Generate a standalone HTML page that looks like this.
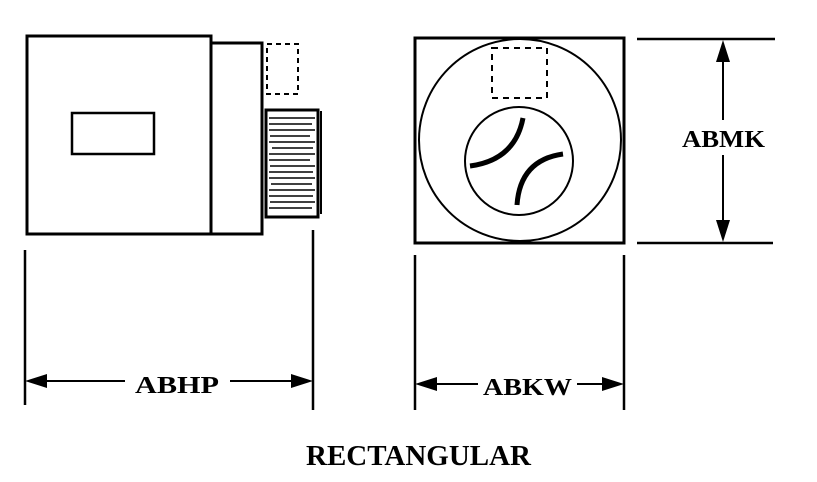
<!DOCTYPE html>
<html><head><style>html,body{margin:0;padding:0;background:#fff;}svg{display:block}
.t{font-family:"Liberation Serif","DejaVu Serif",serif;font-weight:bold;}</style></head>
<body>
<svg width="817" height="482" viewBox="0 0 817 482" xmlns="http://www.w3.org/2000/svg">
<g fill="none" stroke="#000" stroke-width="3">
<rect x="27" y="36" width="184" height="198"/>
<rect x="211" y="43" width="51" height="191"/>
<rect x="72" y="113" width="82" height="41" stroke-width="2.5"/>
<rect x="266" y="110" width="52" height="107" stroke-width="3"/>
<line x1="321" y1="111" x2="321" y2="214" stroke-width="2"/>
<g stroke-width="1.5">
<line x1="269" y1="118" x2="315" y2="118"/><line x1="269" y1="124" x2="312" y2="124"/>
<line x1="269" y1="130" x2="315" y2="130"/><line x1="270" y1="136" x2="310" y2="136"/>
<line x1="269" y1="142" x2="315" y2="142"/><line x1="272" y1="148" x2="313" y2="148"/>
<line x1="269" y1="154" x2="315" y2="154"/><line x1="269" y1="160" x2="310" y2="160"/>
<line x1="270" y1="166" x2="315" y2="166"/><line x1="269" y1="172" x2="313" y2="172"/>
<line x1="269" y1="178" x2="315" y2="178"/><line x1="271" y1="184" x2="312" y2="184"/>
<line x1="269" y1="190" x2="315" y2="190"/><line x1="269" y1="196" x2="313" y2="196"/>
<line x1="270" y1="202" x2="315" y2="202"/><line x1="269" y1="208" x2="312" y2="208"/>
</g>
<rect x="267" y="44" width="31" height="50" stroke-width="2" stroke-dasharray="5,4"/>
<rect x="415" y="38" width="209" height="205"/>
<circle cx="520" cy="140" r="101" stroke-width="2"/>
<circle cx="519" cy="161" r="54" stroke-width="2"/>
<rect x="492" y="48" width="55" height="50" stroke-width="2" stroke-dasharray="6,5"/>
<path d="M470 166 Q515 160 523 118" stroke-width="5"/>
<path d="M517 205 Q520 160 563 154" stroke-width="5"/>
<line x1="25" y1="250" x2="25" y2="405" stroke-width="2.5"/>
<line x1="313" y1="230" x2="313" y2="410" stroke-width="2.5"/>
<line x1="415" y1="255" x2="415" y2="410" stroke-width="2.5"/>
<line x1="624" y1="255" x2="624" y2="410" stroke-width="2.5"/>
<line x1="45" y1="381" x2="125" y2="381" stroke-width="2"/>
<line x1="230" y1="381" x2="295" y2="381" stroke-width="2"/>
<line x1="435" y1="384" x2="478" y2="384" stroke-width="2"/>
<line x1="577" y1="384" x2="605" y2="384" stroke-width="2"/>
<line x1="637" y1="39" x2="775" y2="39" stroke-width="2.5"/>
<line x1="637" y1="243" x2="773" y2="243" stroke-width="2.5"/>
<line x1="723" y1="60" x2="723" y2="120" stroke-width="2"/>
<line x1="723" y1="155" x2="723" y2="222" stroke-width="2"/>
</g>
<g fill="#000">
<polygon points="25,381 47,374 47,388"/>
<polygon points="313,381 291,374 291,388"/>
<polygon points="415,384 437,377 437,391"/>
<polygon points="624,384 602,377 602,391"/>
<polygon points="723,40 716,62 730,62"/>
<polygon points="723,242 716,220 730,220"/>
</g>
<g class="t" fill="#000">
<text x="135" y="393" font-size="24" textLength="84" lengthAdjust="spacingAndGlyphs">ABHP</text>
<text x="483" y="395" font-size="24" textLength="89" lengthAdjust="spacingAndGlyphs">ABKW</text>
<text x="682" y="147" font-size="24" textLength="83" lengthAdjust="spacingAndGlyphs">ABMK</text>
<text x="306" y="465" font-size="29" textLength="225" lengthAdjust="spacingAndGlyphs">RECTANGULAR</text>
</g>
</svg>
</body></html>
